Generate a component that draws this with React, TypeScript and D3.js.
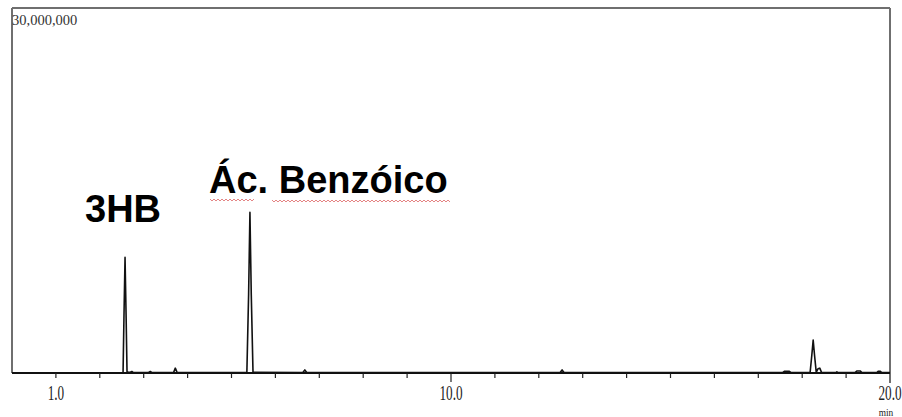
import React from "react";
import * as d3 from "d3";

// Chromatogram trace: retention time (min) and signal (millions of counts)
const traceTime = [
  2.5, 2.53, 2.55, 2.575, 2.6, 2.62, 2.66, 2.7, 2.73, 2.76,
  3.1, 3.15, 3.19, 3.68, 3.72, 3.76,
  5.35, 5.39, 5.42, 5.45, 5.49,
  6.62, 6.67, 6.72, 12.48, 12.53, 12.58,
  17.55, 17.6, 17.7, 17.75,
  18.18, 18.22, 18.25, 18.28, 18.32, 18.36, 18.4, 18.44,
  18.77, 18.79, 18.81, 19.2, 19.25, 19.32, 19.36,
  19.7, 19.73, 19.78, 19.81, 20,
];
const traceSignal = [
  0, 0.05, 4.5, 9.5, 4.5, 0.1, 0.05, 0.08, 0.12, 0.05,
  0.03, 0.12, 0.03, 0.03, 0.4, 0.05,
  0.03, 6.5, 13.2, 6.5, 0.05,
  0.03, 0.25, 0.03, 0.03, 0.25, 0.03,
  0.03, 0.15, 0.15, 0.03,
  0.03, 1.5, 2.7, 1.5, 0.05, 0.35, 0.4, 0.05,
  0.03, 0.1, 0.03, 0.03, 0.17, 0.17, 0.03,
  0.03, 0.15, 0.15, 0.03, 0.03,
];

const tickMinutes = d3.range(1, 20);
const labelMinutes = [1, 10, 20];
const labelTexts = ["1.0", "10.0", "20.0"];
const yMaxLabel = "30,000,000";
const yMax = 30; // millions

const peakLabels = ["3HB", "Ác. Benzóico"];

const W = 902;
const H = 417;

function squiggle(x0: number, x1: number, y: number) {
  const step = 2;
  const pts: [number, number][] = [];
  let i = 0;
  for (let x = x0; x <= x1; x += step, i++) {
    pts.push([x, y + (i % 2 === 0 ? -1 : 1)]);
  }
  return d3.line()(pts) || "";
}

export default function App() {
  const x = d3.scaleLinear().domain([0, 20]).range([12, 890]);
  const y = d3.scaleLinear().domain([0, yMax]).range([373, 8]);

  const data = traceTime.map((t, i) => [t, traceSignal[i]] as [number, number]);
  const line = d3
    .line<[number, number]>()
    .x((d) => x(d[0]))
    .y((d) => y(d[1]));

  const serif = "'Liberation Serif', 'Times New Roman', serif";
  const sans = "'Liberation Sans', Arial, sans-serif";

  return (
    <svg
      width={W}
      height={H}
      style={{ position: "absolute", left: 0, top: 0, background: "#fff" }}
    >
      <rect x={0} y={0} width={W} height={H} fill="#fff" />
      {/* frame */}
      <line x1={x(0)} x2={x(20)} y1={y(yMax)} y2={y(yMax)} stroke="#6f6f6f" strokeWidth={2} />
      <line x1={x(0)} x2={x(0)} y1={y(yMax)} y2={y(0)} stroke="#6f6f6f" strokeWidth={2} />
      <line x1={x(20)} x2={x(20)} y1={y(yMax)} y2={y(0) + 10} stroke="#6f6f6f" strokeWidth={2} />
      {/* x axis */}
      <line x1={x(0)} x2={x(20)} y1={y(0)} y2={y(0)} stroke="#111" strokeWidth={2.2} />
      {tickMinutes.map((m) => (
        <line
          key={m}
          x1={x(m)}
          x2={x(m)}
          y1={y(0)}
          y2={y(0) + (m === 10 ? 9 : 5)}
          stroke="#222"
          strokeWidth={1.2}
        />
      ))}
      {labelMinutes.map((m, i) => (
        <text
          key={m}
          transform={`translate(${x(m)},400) scale(0.66,1)`}
          textAnchor="middle"
          fontFamily={serif}
          fontSize={20}
          fill="#222"
        >
          {labelTexts[i]}
        </text>
      ))}
      <text
        transform={`translate(${x(20) - 4},416) scale(0.85,1)`}
        textAnchor="middle"
        fontFamily={serif}
        fontSize={11}
        fill="#222"
      >
        min
      </text>
      <text x={12} y={25} fontFamily={serif} fontSize={14.5} fill="#333">
        {yMaxLabel}
      </text>
      {/* trace */}
      <path d={line(data) || ""} fill="none" stroke="#111" strokeWidth={1.6} strokeLinejoin="round" />
      {/* peak labels */}
      <text x={85} y={222} fontFamily={sans} fontWeight="bold" fontSize={38} fill="#000">
        {peakLabels[0]}
      </text>
      <text x={209} y={193} fontFamily={sans} fontWeight="bold" fontSize={38} fill="#000">
        {peakLabels[1]}
      </text>
      <path d={squiggle(210, 254, 200)} fill="none" stroke="#d66" strokeWidth={0.8} />
      <path d={squiggle(272, 450, 201)} fill="none" stroke="#d66" strokeWidth={0.8} />
    </svg>
  );
}
